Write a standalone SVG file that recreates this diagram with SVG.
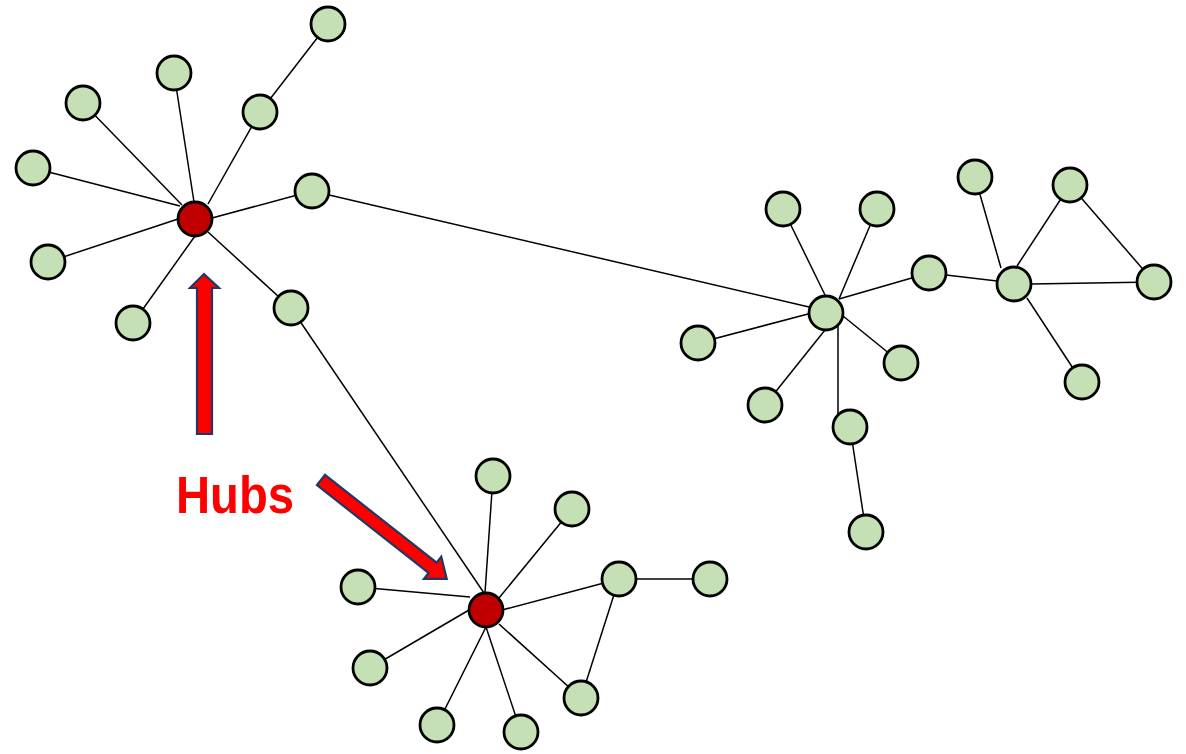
<svg xmlns="http://www.w3.org/2000/svg" width="1186" height="754" viewBox="0 0 1186 754">
  <style>
    .edge { stroke: #000; stroke-width: 1.5; fill: none; }
    .node { fill: #C5E0B4; stroke: #000; stroke-width: 2.8; }
    .hub { fill: #C00000; stroke: #000; stroke-width: 2.8; }
    .pointer { fill: #FF0000; stroke: #1F3864; stroke-width: 2.2; stroke-linejoin: miter; }
    .label { font-family: "Liberation Sans", Arial, sans-serif; font-weight: bold; fill: #FF0000; }
  </style>
  <rect width="1186" height="754" fill="#FFFFFF"/>

  <g id="connectors">
    <!-- first hub -->
    <line class="edge" x1="194" y1="202" x2="174" y2="73"/>
    <line class="edge" x1="182" y1="205" x2="83" y2="103"/>
    <line class="edge" x1="208" y1="204" x2="260" y2="112"/>
    <line class="edge" x1="180" y1="206" x2="33" y2="168"/>
    <line class="edge" x1="212" y1="218" x2="312" y2="191"/>
    <line class="edge" x1="178" y1="219" x2="48" y2="262"/>
    <line class="edge" x1="195" y1="236" x2="133" y2="323"/>
    <line class="edge" x1="208" y1="232" x2="291" y2="308"/>
    <line class="edge" x1="260" y1="112" x2="328" y2="24"/>
    <line class="edge" x1="312" y1="191" x2="809" y2="307"/>
    <line class="edge" x1="291" y1="308" x2="484" y2="593"/>
    <!-- second hub -->
    <line class="edge" x1="485" y1="593" x2="493" y2="476"/>
    <line class="edge" x1="499" y1="598" x2="572" y2="509"/>
    <line class="edge" x1="470" y1="597" x2="358" y2="587"/>
    <line class="edge" x1="502" y1="610" x2="619" y2="579"/>
    <line class="edge" x1="469" y1="610" x2="370" y2="668"/>
    <line class="edge" x1="499" y1="624" x2="581" y2="698"/>
    <line class="edge" x1="486" y1="627" x2="437" y2="725"/>
    <line class="edge" x1="486" y1="627" x2="521" y2="732"/>
    <line class="edge" x1="619" y1="579" x2="710" y2="579"/>
    <line class="edge" x1="619" y1="579" x2="581" y2="698"/>
    <!-- right cluster -->
    <line class="edge" x1="826" y1="297" x2="783" y2="209"/>
    <line class="edge" x1="839" y1="299" x2="877" y2="209"/>
    <line class="edge" x1="839" y1="299" x2="929" y2="273"/>
    <line class="edge" x1="808" y1="314" x2="698" y2="343"/>
    <line class="edge" x1="843" y1="316" x2="901" y2="363"/>
    <line class="edge" x1="825" y1="330" x2="765" y2="405"/>
    <line class="edge" x1="838" y1="320" x2="838" y2="420"/>
    <line class="edge" x1="850" y1="427" x2="866" y2="532"/>
    <line class="edge" x1="929" y1="273" x2="997" y2="281"/>
    <line class="edge" x1="1001" y1="268" x2="975" y2="177"/>
    <line class="edge" x1="1017" y1="266" x2="1070" y2="185"/>
    <line class="edge" x1="1031" y1="284" x2="1154" y2="282"/>
    <line class="edge" x1="1027" y1="298" x2="1082" y2="382"/>
    <line class="edge" x1="1070" y1="185" x2="1154" y2="282"/>
  </g>

  <g id="hub-a"><circle class="hub" cx="195" cy="219" r="17"/></g>
  <g id="n-a1"><circle class="node" cx="328" cy="24" r="17"/></g>
  <g id="n-a2"><circle class="node" cx="174" cy="73" r="17"/></g>
  <g id="n-a3"><circle class="node" cx="83" cy="103" r="17"/></g>
  <g id="n-a4"><circle class="node" cx="260" cy="112" r="17"/></g>
  <g id="n-a5"><circle class="node" cx="33" cy="168" r="17"/></g>
  <g id="n-a6"><circle class="node" cx="312" cy="191" r="17"/></g>
  <g id="n-a7"><circle class="node" cx="48" cy="262" r="17"/></g>
  <g id="n-a8"><circle class="node" cx="133" cy="323" r="17"/></g>
  <g id="n-a9"><circle class="node" cx="291" cy="308" r="17"/></g>

  <g id="hub-b"><circle class="hub" cx="486" cy="610" r="17"/></g>
  <g id="n-b1"><circle class="node" cx="493" cy="476" r="17"/></g>
  <g id="n-b2"><circle class="node" cx="572" cy="509" r="17"/></g>
  <g id="n-b3"><circle class="node" cx="358" cy="587" r="17"/></g>
  <g id="n-b4"><circle class="node" cx="619" cy="579" r="17"/></g>
  <g id="n-b5"><circle class="node" cx="710" cy="579" r="17"/></g>
  <g id="n-b6"><circle class="node" cx="370" cy="668" r="17"/></g>
  <g id="n-b7"><circle class="node" cx="581" cy="698" r="17"/></g>
  <g id="n-b8"><circle class="node" cx="437" cy="725" r="17"/></g>
  <g id="n-b9"><circle class="node" cx="521" cy="732" r="17"/></g>

  <g id="n-c0"><circle class="node" cx="826" cy="313" r="17"/></g>
  <g id="n-c1"><circle class="node" cx="783" cy="209" r="17"/></g>
  <g id="n-c2"><circle class="node" cx="877" cy="209" r="17"/></g>
  <g id="n-c3"><circle class="node" cx="929" cy="273" r="17"/></g>
  <g id="n-c4"><circle class="node" cx="698" cy="343" r="17"/></g>
  <g id="n-c5"><circle class="node" cx="901" cy="363" r="17"/></g>
  <g id="n-c6"><circle class="node" cx="765" cy="405" r="17"/></g>
  <g id="n-c7"><circle class="node" cx="850" cy="427" r="17"/></g>
  <g id="n-c8"><circle class="node" cx="866" cy="532" r="17"/></g>
  <g id="n-d0"><circle class="node" cx="1014" cy="284" r="17"/></g>
  <g id="n-d1"><circle class="node" cx="975" cy="177" r="17"/></g>
  <g id="n-d2"><circle class="node" cx="1070" cy="185" r="17"/></g>
  <g id="n-d3"><circle class="node" cx="1154" cy="282" r="17"/></g>
  <g id="n-d4"><circle class="node" cx="1082" cy="382" r="17"/></g>

  <!-- block arrows pointing at the hubs -->
  <g id="arrow-up">
    <polygon class="pointer" points="204,274 219,288 212,288 212,434 197,434 197,288 190,288"/>
  </g>
  <g id="arrow-diag" transform="translate(321,480) rotate(38.2)">
    <polygon class="pointer" points="0,-6.5 142,-6.5 142,-14 160,0 142,14 142,6.5 0,6.5"/>
  </g>

  <g id="label">
    <text class="label" x="176" y="513" font-size="51" textLength="118" lengthAdjust="spacingAndGlyphs">Hubs</text>
  </g>
</svg>
